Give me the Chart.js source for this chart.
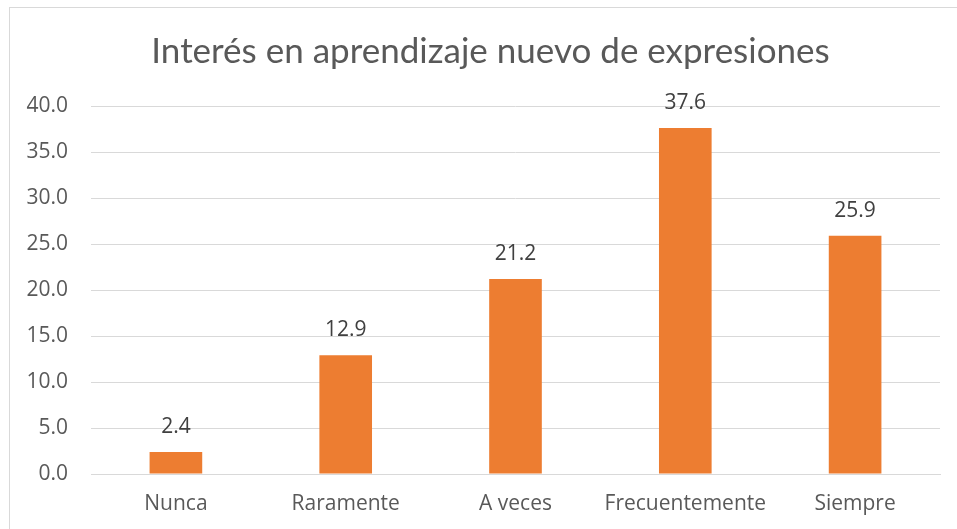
<!DOCTYPE html>
<html>
<head>
<meta charset="utf-8">
<script src="https://cdn.jsdelivr.net/npm/chart.js@4"></script>
<style>
    body { margin: 0; background: #fff; }
    .wrap { position: relative; width: 957px; height: 529px; }
    .frame { position: absolute; left: 9px; top: 7px; width: 960px; height: 540px; border: 1px solid #d9d9d9; }
    canvas { position: absolute; left: 0; top: 0; }
</style>
</head>
<body>
<div class="wrap">
    <div class="frame"></div>
    <canvas id="chart" width="957" height="529"></canvas>
</div>
<script>
// Data
const categories = ['Nunca', 'Raramente', 'A veces', 'Frecuentemente', 'Siempre'];
const values = [2.4, 12.9, 21.2, 37.6, 25.9];
const chartTitle = 'Interés en aprendizaje nuevo de expresiones';

// Title, drawn a bit right of centre like the original
const titleText = {
    id: 'titleText',
    afterDraw(chart) {
        const ctx = chart.ctx;
        ctx.save();
        ctx.font = '35px Lato';
        ctx.fillStyle = '#595959';
        ctx.textAlign = 'center';
        ctx.textBaseline = 'alphabetic';
        ctx.fillText(chartTitle, 490.5, 63);
        ctx.restore();
    }
};

// Value labels above bars
const barLabels = {
    id: 'barLabels',
    afterDatasetsDraw(chart) {
        const ctx = chart.ctx;
        const meta = chart.getDatasetMeta(0);
        ctx.save();
        ctx.font = '21px "Open Sans"';
        ctx.fillStyle = '#404040';
        ctx.textAlign = 'center';
        ctx.textBaseline = 'middle';
        meta.data.forEach((bar, i) => {
            ctx.fillText(values[i].toFixed(1), bar.x, bar.y - 25);
        });
        ctx.restore();
    }
};

new Chart(document.getElementById('chart'), {
    type: 'bar',
    data: {
        labels: categories,
        datasets: [{
            data: values,
            backgroundColor: '#ED7D31',
            categoryPercentage: 1,
            barPercentage: 0.31
        }]
    },
    options: {
        responsive: false,
        animation: false,
        layout: { padding: { left: 20, right: 17, top: 106, bottom: 0 } },
        plugins: {
            legend: { display: false },
            tooltip: { enabled: false }
        },
        scales: {
            x: {
                grid: { display: false },
                border: { display: true, color: '#d9d9d9' },
                ticks: { color: '#595959', font: { family: 'Open Sans', size: 21 }, padding: 9, maxRotation: 0 },
                afterFit: (scale) => { scale.height = 55; }
            },
            y: {
                min: 0,
                max: 40,
                border: { display: false },
                grid: { color: '#d9d9d9', drawTicks: false },
                ticks: {
                    stepSize: 5,
                    color: '#595959',
                    font: { family: 'Open Sans', size: 21 },
                    padding: 23,
                    callback: (v) => v.toFixed(1)
                },
                afterFit: (scale) => { scale.width = 71; }
            }
        }
    },
    plugins: [barLabels, titleText]
});
</script>
</body>
</html>
